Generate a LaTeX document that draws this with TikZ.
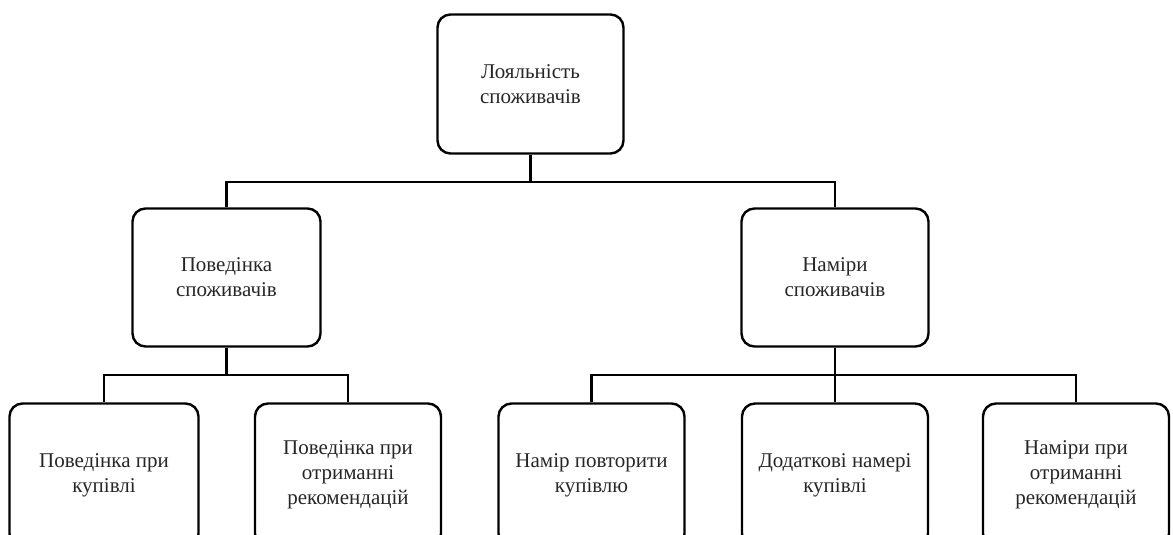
\documentclass[tikz,border=0pt]{standalone}
\usepackage{fontspec}
\setmainfont{Liberation Serif}
\begin{document}
\begin{tikzpicture}[x=1pt,y=-1pt,
  box/.style={draw, line width=2.4pt, rounded corners=13pt, align=center, inner sep=0pt,
    font=\fontsize{21}{25}\selectfont, text=black!85},
  conn/.style={line width=2.4pt}]
\useasboundingbox (0,0) rectangle (1173,535);
\clip (0,0) rectangle (1173,535);
\node[box, minimum width=186pt, minimum height=139pt] (top) at (530.5,84) {Лояльність\\споживачів};
\node[box, minimum width=188pt, minimum height=138pt] (ml) at (226.5,277.5) {Поведінка\\споживачів};
\node[box, minimum width=187pt, minimum height=138pt] (mr) at (835,277.5) {Наміри\\споживачів};
\node[box, minimum width=189pt, minimum height=143pt] (b1) at (104,475) {Поведінка при\\купівлі};
\node[box, minimum width=186pt, minimum height=143pt] (b2) at (348,475) {Поведінка при\\отриманні\\рекомендацій};
\node[box, minimum width=186pt, minimum height=143pt] (b3) at (591.5,475) {Намір повторити\\купівлю};
\node[box, minimum width=186pt, minimum height=143pt] (b4) at (835,475) {Додаткові намері\\купівлі};
\node[box, minimum width=186pt, minimum height=143pt] (b5) at (1076,475) {Наміри при\\отриманні\\рекомендацій};
\coordinate (j1) at (530.5,182);
\coordinate (j2) at (226.5,375);
\coordinate (j3) at (835,375);
\draw[conn] (top.south) -- (j1);
\draw[conn] (ml.north) |- (j1) -| (mr.north);
\draw[conn] (ml.south) -- (j2);
\draw[conn] (b1.north) |- (j2) -| (b2.north);
\draw[conn] (mr.south) -- (b4.north);
\draw[conn] (b3.north) |- (j3) -| (b5.north);
\end{tikzpicture}
\end{document}
